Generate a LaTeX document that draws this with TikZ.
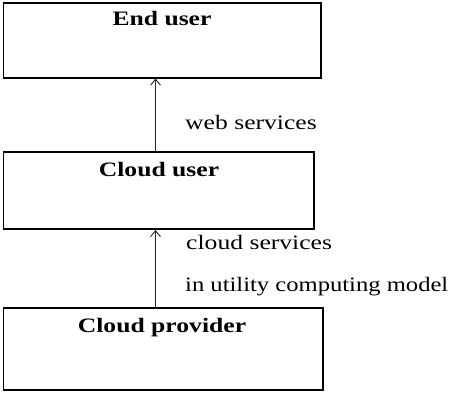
\documentclass[tikz,border=0pt]{standalone}
\usepackage{fontspec}
\setmainfont{Liberation Serif}[FakeStretch=1.25]
\newfontfamily\narrowserif{Liberation Serif}[FakeStretch=1.2]
\usetikzlibrary{arrows.meta}
\begin{document}
\begin{tikzpicture}[x=1pt,y=-1pt,
  box/.style={draw=black,line width=1.6pt,rectangle,inner sep=0pt},
  title/.style={font=\fontsize{20.5}{23}\selectfont\bfseries,anchor=base,inner sep=0pt},
  lbl/.style={font=\fontsize{20.5}{23}\selectfont,anchor=base west,inner sep=0pt},
  flow/.style={draw=black!85,line width=0.9pt,-{Straight Barb[length=6pt,width=10pt,line width=0.9pt]}}]
\useasboundingbox (0,0) rectangle (458,404);
\node[box,minimum width=317.5pt,minimum height=75pt] (enduser) at (162.25,40.5) {};
\node[box,minimum width=310.5pt,minimum height=77pt] (clouduser) at (158.75,190.5) {};
\node[box,minimum width=319.5pt,minimum height=82pt] (provider) at (163.25,349) {};
\node[title] (t1) at (162,26) {End user};
\node[title] (t2) at (159,176) {Cloud user};
\node[title] (t3) at (162,332.5) {Cloud provider};
\node[lbl] (l1) at (185,129) {web services};
\node[lbl] (l2) at (186,249) {cloud services};
\node[lbl,font=\fontsize{20.5}{23}\narrowserif] (l3) at (185,291) {in utility computing model};
\coordinate (a1s) at (155.5,308);
\coordinate (a1e) at (155.5,230);
\coordinate (a2s) at (155.5,152);
\coordinate (a2e) at (155.5,78.5);
\draw[flow] (a1s) -- (a1e);
\draw[flow] (a2s) -- (a2e);
\end{tikzpicture}
\end{document}
